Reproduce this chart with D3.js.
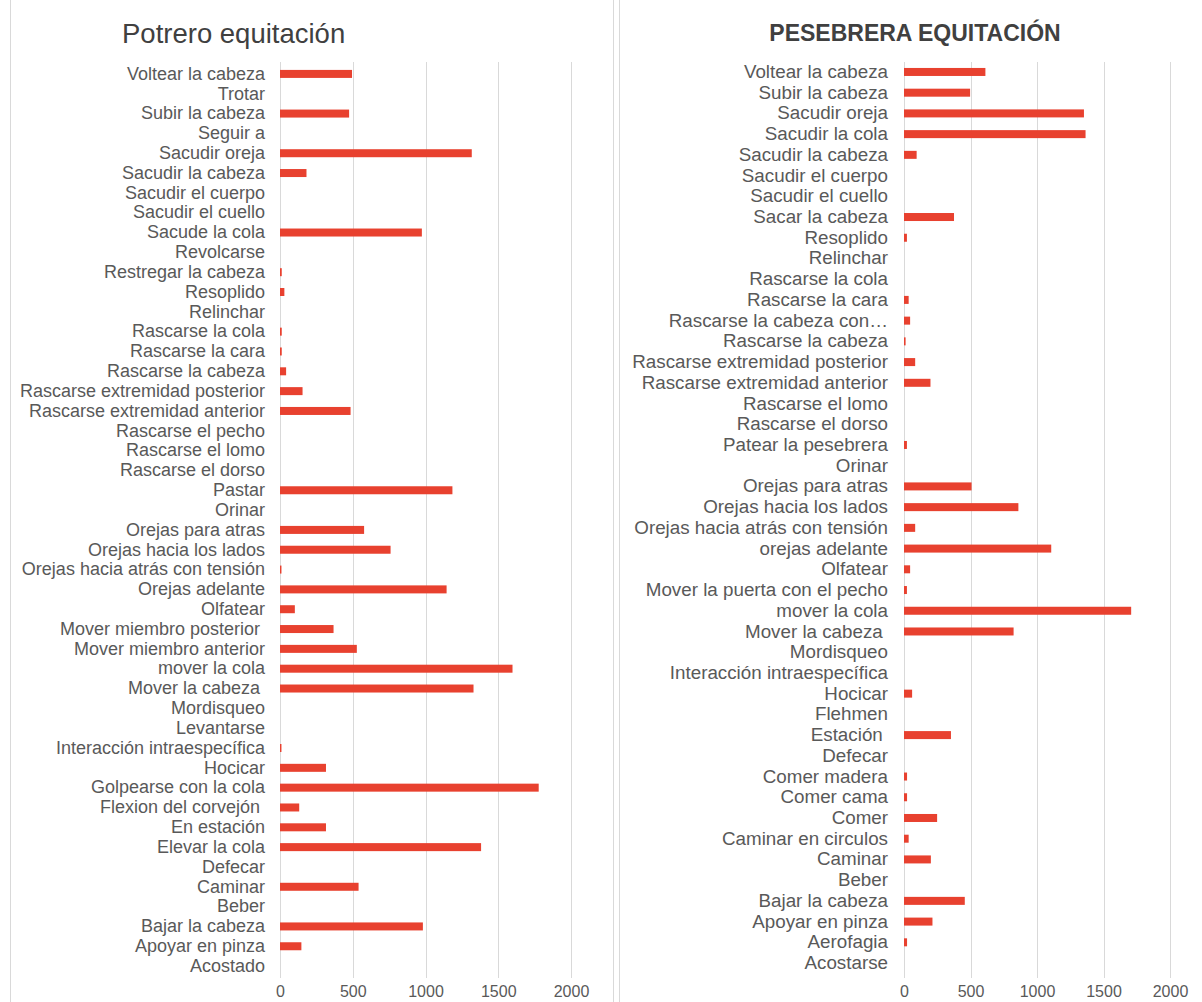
<!DOCTYPE html>
<html><head><meta charset="utf-8">
<script src="https://cdn.jsdelivr.net/npm/d3@7"></script>
<style>
html,body{margin:0;padding:0;background:#fff;}
svg{display:block;font-family:"Liberation Sans",Arial,sans-serif;}
</style></head>
<body>
<svg id="c" width="1202" height="1002"></svg>
<script>
// ---------- DATA ----------
const leftTitle = "Potrero equitación";
const leftCategories = [
  "Voltear la cabeza","Trotar","Subir la cabeza","Seguir a","Sacudir oreja","Sacudir la cabeza",
  "Sacudir el cuerpo","Sacudir el cuello","Sacude la cola","Revolcarse","Restregar la cabeza",
  "Resoplido","Relinchar","Rascarse la cola","Rascarse la cara","Rascarse la cabeza",
  "Rascarse extremidad posterior","Rascarse extremidad anterior","Rascarse el pecho",
  "Rascarse el lomo","Rascarse el dorso","Pastar","Orinar","Orejas para atras",
  "Orejas hacia los lados","Orejas hacia atrás con tensión","Orejas adelante","Olfatear",
  "Mover miembro posterior ","Mover miembro anterior","mover la cola","Mover la cabeza ",
  "Mordisqueo","Levantarse","Interacción intraespecífica","Hocicar","Golpearse con la cola",
  "Flexion del corvejón ","En estación","Elevar la cola","Defecar","Caminar","Beber",
  "Bajar la cabeza","Apoyar en pinza","Acostado"
];
const leftValues = [
  495,0,475,0,1318,182,0,0,975,0,12,30,0,12,12,42,
  155,485,0,0,0,1185,0,578,760,10,1145,102,
  368,528,1598,1330,0,0,10,316,1778,
  132,316,1382,0,540,0,982,147,0
];
const rightTitle = "PESEBRERA EQUITACIÓN";
const rightCategories = [
  "Voltear la cabeza","Subir la cabeza","Sacudir oreja","Sacudir la cola","Sacudir la cabeza",
  "Sacudir el cuerpo","Sacudir el cuello","Sacar la cabeza","Resoplido","Relinchar",
  "Rascarse la cola","Rascarse la cara","Rascarse la cabeza con…","Rascarse la cabeza",
  "Rascarse extremidad posterior","Rascarse extremidad anterior","Rascarse el lomo",
  "Rascarse el dorso","Patear la pesebrera","Orinar","Orejas para atras",
  "Orejas hacia los lados","Orejas hacia atrás con tensión","orejas adelante","Olfatear",
  "Mover la puerta con el pecho","mover la cola","Mover la cabeza ","Mordisqueo",
  "Interacción intraespecífica","Hocicar","Flehmen","Estación ","Defecar","Comer madera",
  "Comer cama","Comer","Caminar en circulos","Caminar","Beber","Bajar la cabeza",
  "Apoyar en pinza","Aerofagia","Acostarse"
];
const rightValues = [
  612,497,1353,1365,95,0,0,376,22,0,
  0,35,46,12,
  84,199,0,0,22,0,508,
  860,84,1107,46,
  22,1708,824,0,
  0,61,0,353,0,23,
  23,249,35,202,0,457,
  214,23,0
];
const tickValues = [0,500,1000,1500,2000];

// ---------- DRAW ----------
const svg = d3.select("#c");
const textColor = "#595959";
const gridColor = "#d9d9d9";
const barColor = "#e8412f";
const FONT = '"Liberation Sans",Arial,sans-serif';

// panel borders
[10, 613, 619].forEach(x => {
  svg.append("line").attr("x1",x+0.5).attr("x2",x+0.5).attr("y1",0).attr("y2",1002)
    .attr("stroke","#d9d9d9").attr("stroke-width",1);
});

function panel(cfg){
  const g = svg.append("g");
  const x = d3.scaleLinear().domain([0,2000]).range([cfg.x0, cfg.x1]);
  const y = d3.scaleBand().domain(cfg.cats).range([cfg.yTop, cfg.yBot]);
  // gridlines
  g.append("g").selectAll("line").data(tickValues).join("line")
    .attr("x1", d=>Math.round(x(d))+0.5).attr("x2", d=>Math.round(x(d))+0.5)
    .attr("y1", 62).attr("y2", 978)
    .attr("stroke", gridColor).attr("stroke-width",1);
  // bars
  const bh = 8;
  g.append("g").selectAll("rect").data(cfg.cats.map((c,i)=>({c, v:cfg.vals[i]})).filter(d=>d.v>0))
    .join("rect")
    .attr("x", x(0)).attr("width", d=>x(d.v)-x(0))
    .attr("y", d=>y(d.c)+y.bandwidth()/2-bh/2).attr("height", bh)
    .attr("fill", barColor);
  // y axis labels
  const ya = g.append("g").attr("transform",`translate(${x(0)-cfg.labelGap},0)`)
    .call(d3.axisLeft(y).tickSize(0).tickPadding(0));
  ya.select(".domain").remove();
  ya.selectAll("text").attr("fill", textColor).style("font-size", cfg.fs+"px")
    .style("font-family", FONT).style("white-space","pre");
  // x axis
  const xa = g.append("g").attr("transform",`translate(0,${cfg.tickY})`)
    .call(d3.axisBottom(x).tickValues(tickValues).tickFormat(d3.format("d")).tickSize(0).tickPadding(0));
  xa.select(".domain").remove();
  xa.selectAll("text").attr("fill", textColor).style("font-size","16px")
    .style("font-family", FONT).attr("y",0).attr("dy","0");
  // title
  g.append("text").attr("x", cfg.titleX).attr("y", cfg.titleY)
    .attr("text-anchor", cfg.titleAnchor)
    .attr("fill", cfg.titleColor)
    .style("font-size", cfg.titleFs+"px").style("font-weight", cfg.titleWeight)
    .style("font-family", FONT)
    .text(cfg.title);
}

panel({cats:leftCategories, vals:leftValues, x0:280, x1:571, yTop:64, yBot:976,
  labelGap:15, fs:18, tickY:997, title:leftTitle, titleX:122, titleY:43, titleAnchor:"start",
  titleFs:27.5, titleWeight:"normal", titleColor:"#404040"});
panel({cats:rightCategories, vals:rightValues, x0:904, x1:1170, yTop:61.6, yBot:973.4,
  labelGap:16, fs:18.8, tickY:997, title:rightTitle, titleX:915, titleY:41, titleAnchor:"middle",
  titleFs:23, titleWeight:"bold", titleColor:"#404040"});
</script>
</body></html>
